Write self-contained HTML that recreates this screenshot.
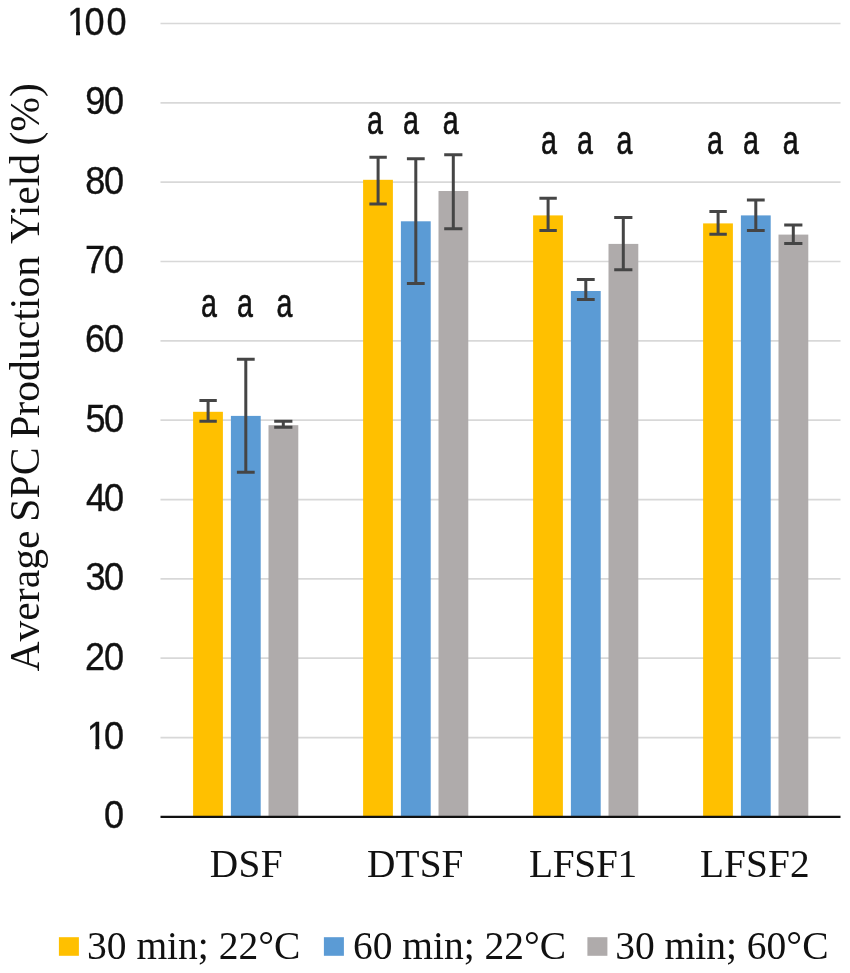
<!DOCTYPE html>
<html lang="en">
<head>
<meta charset="utf-8">
<title>Average SPC Production Yield</title>
<style>
html,body{margin:0;padding:0;background:#fff;}
body{width:850px;height:973px;overflow:hidden;}
svg{display:block;}
</style>
</head>
<body>
<svg width="850" height="973" viewBox="0 0 850 973">
<rect width="850" height="973" fill="#fff"/>
<g stroke="#D8D8D8" stroke-width="1.7">
<line x1="160.5" y1="737.56" x2="840.5" y2="737.56"/>
<line x1="160.5" y1="658.22" x2="840.5" y2="658.22"/>
<line x1="160.5" y1="578.88" x2="840.5" y2="578.88"/>
<line x1="160.5" y1="499.54" x2="840.5" y2="499.54"/>
<line x1="160.5" y1="420.20" x2="840.5" y2="420.20"/>
<line x1="160.5" y1="340.86" x2="840.5" y2="340.86"/>
<line x1="160.5" y1="261.52" x2="840.5" y2="261.52"/>
<line x1="160.5" y1="182.18" x2="840.5" y2="182.18"/>
<line x1="160.5" y1="102.84" x2="840.5" y2="102.84"/>
<line x1="160.5" y1="23.50" x2="840.5" y2="23.50"/>
</g>
<rect x="193.10" y="411.80" width="29.8" height="405.10" fill="#FFC000"/>
<rect x="230.90" y="415.90" width="29.8" height="401.00" fill="#5B9BD5"/>
<rect x="268.50" y="425.20" width="29.8" height="391.70" fill="#AFABAB"/>
<rect x="363.10" y="179.80" width="29.8" height="637.10" fill="#FFC000"/>
<rect x="400.90" y="221.30" width="29.8" height="595.60" fill="#5B9BD5"/>
<rect x="438.50" y="191.00" width="29.8" height="625.90" fill="#AFABAB"/>
<rect x="533.10" y="215.40" width="29.8" height="601.50" fill="#FFC000"/>
<rect x="570.90" y="291.00" width="29.8" height="525.90" fill="#5B9BD5"/>
<rect x="608.50" y="243.90" width="29.8" height="573.00" fill="#AFABAB"/>
<rect x="703.10" y="223.40" width="29.8" height="593.50" fill="#FFC000"/>
<rect x="740.90" y="215.40" width="29.8" height="601.50" fill="#5B9BD5"/>
<rect x="778.50" y="234.60" width="29.8" height="582.30" fill="#AFABAB"/>
<line x1="160.5" y1="816.9" x2="840.5" y2="816.9" stroke="#111" stroke-width="2.2"/>
<g stroke="#454545" stroke-width="3" fill="none">
<path d="M199.40 400.50H216.80M199.40 421.30H216.80M208.10 400.50V421.30"/>
<path d="M236.90 359.20H254.70M236.90 472.20H254.70M245.80 359.20V472.20"/>
<path d="M274.20 421.30H292.40M274.20 427.20H292.40M283.30 421.30V427.20"/>
<path d="M369.40 157.20H386.80M369.40 204.00H386.80M378.10 157.20V204.00"/>
<path d="M406.90 158.70H424.70M406.90 283.40H424.70M415.80 158.70V283.40"/>
<path d="M444.20 154.80H462.40M444.20 228.80H462.40M453.30 154.80V228.80"/>
<path d="M539.40 198.20H556.80M539.40 230.50H556.80M548.10 198.20V230.50"/>
<path d="M576.90 279.50H594.70M576.90 299.60H594.70M585.80 279.50V299.60"/>
<path d="M614.20 217.40H632.40M614.20 269.80H632.40M623.30 217.40V269.80"/>
<path d="M709.40 211.60H726.80M709.40 234.20H726.80M718.10 211.60V234.20"/>
<path d="M746.90 200.10H764.70M746.90 230.50H764.70M755.80 200.10V230.50"/>
<path d="M784.20 224.90H802.40M784.20 243.50H802.40M793.30 224.90V243.50"/>
</g>
<g font-family="'Liberation Sans', sans-serif" font-size="38.4" fill="#111" stroke="#111" stroke-width="0.35">
<text transform="translate(0 828.40) scale(0.94 1)" x="110.73" y="0">0</text>
<clipPath id="c10"><path clip-rule="evenodd" d="M0 -45H200V15H0ZM93.58 -4.3H101.42V3H93.58ZM105.61 -4.3H112.84V3H105.61Z"/></clipPath>
<text transform="translate(0 749.06) scale(0.94 1)" x="92.16 110.73" y="0" clip-path="url(#c10)">10</text>
<text transform="translate(0 669.72) scale(0.94 1)" x="90.52 110.73" y="0">20</text>
<text transform="translate(0 590.38) scale(0.94 1)" x="90.98 110.73" y="0">30</text>
<text transform="translate(0 511.04) scale(0.94 1)" x="91.57 110.73" y="0">40</text>
<text transform="translate(0 431.70) scale(0.94 1)" x="90.91 110.73" y="0">50</text>
<text transform="translate(0 352.36) scale(0.94 1)" x="90.50 110.73" y="0">60</text>
<text transform="translate(0 273.02) scale(0.94 1)" x="90.48 110.73" y="0">70</text>
<text transform="translate(0 193.68) scale(0.94 1)" x="90.78 110.73" y="0">80</text>
<text transform="translate(0 114.34) scale(0.94 1)" x="90.65 110.73" y="0">90</text>
<clipPath id="c100"><path clip-rule="evenodd" d="M0 -45H200V15H0ZM73.05 -4.3H80.89V3H73.05ZM85.08 -4.3H92.31V3H85.08Z"/></clipPath>
<text transform="translate(0 35.00) scale(0.94 1)" x="71.63 89.99 113.39" y="0" clip-path="url(#c100)">100</text>
</g>
<g font-family="'Liberation Sans', sans-serif" font-size="40.8" fill="#111" stroke="#111" stroke-width="0.7">
<text transform="translate(0 316.5) scale(0.7 1)" x="287.12 312.12 338.55 363.55 394.98" y="0">a a a</text>
<text transform="translate(0 133.6) scale(0.7 1)" x="524.27 549.27 575.70 600.70 632.41" y="0">a a a</text>
<text transform="translate(0 154.1) scale(0.7 1)" x="772.84 797.84 824.27 849.27 880.70" y="0">a a a</text>
<text transform="translate(0 154.1) scale(0.7 1)" x="1009.98 1034.98 1061.41 1086.41 1118.12" y="0">a a a</text>
</g>
<g font-family="'Liberation Serif', serif" font-size="39.3" fill="#111" text-anchor="middle">
<text x="246.3" y="876.8" letter-spacing="0.4">DSF</text>
<text x="415.3" y="876.8" letter-spacing="0.1">DTSF</text>
<text x="583.0" y="876.8" letter-spacing="-0.25">LFSF1</text>
<text x="754.9" y="876.8" letter-spacing="0.15">LFSF2</text>
</g>
<g font-family="'Liberation Serif', serif" font-size="39.5" fill="#111">
<rect x="58.9" y="937.2" width="20" height="18.6" fill="#FFC000"/>
<text x="87.0" y="959.2">30 min; 22°C</text>
<rect x="323.9" y="937.2" width="20" height="18.6" fill="#5B9BD5"/>
<text x="352.9" y="959.2">60 min; 22°C</text>
<rect x="587.4" y="937.2" width="20" height="18.6" fill="#AFABAB"/>
<text x="615.2" y="959.2">30 min; 60°C</text>
</g>
<text transform="translate(39.0 671.6) rotate(-90) scale(0.9695 1)" font-family="'Liberation Serif', serif" font-size="43" fill="#111" id="ytitle" style="font-kerning:none" word-spacing="-1.7">Average SPC Production<tspan dx="3.4"> Y</tspan><tspan dx="-2.6">ield</tspan><tspan dx="-0.6"> (%)</tspan></text>
</svg>
</body>
</html>
